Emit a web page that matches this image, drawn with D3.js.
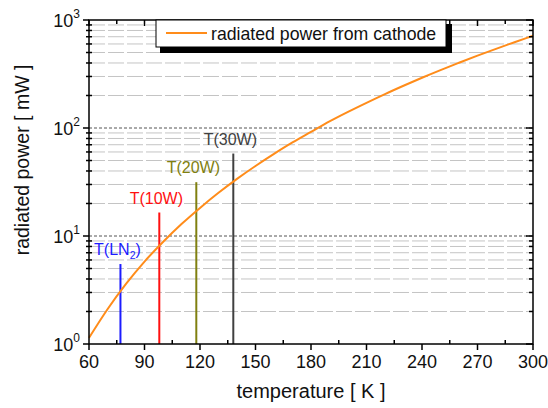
<!DOCTYPE html>
<html>
<head>
<meta charset="utf-8">
<script src="https://cdn.jsdelivr.net/npm/d3@7"></script>
<style>
	body { margin: 0; background: #fff; }
	text { font-family: "Liberation Sans", Arial, sans-serif; }
</style>
</head>
<body>
<svg id="chart" width="548" height="408"></svg>
<script>
// radiated power of the cathode vs temperature
const temperatures = [60, 70, 80, 90, 100, 110, 120, 130, 140, 150, 160, 170, 180,
	190, 200, 210, 220, 230, 240, 250, 260, 270, 280, 290, 300];
const powers = [1.14, 2.1, 3.6, 5.8, 8.8, 12.9, 18.2, 25.1, 33.8, 44.5, 57.6, 73.5, 92,
	115, 141, 171, 206, 246, 292, 344, 402, 468, 541, 622, 715];

const markerNames = ["T(LN2)", "T(10W)", "T(20W)", "T(30W)"];
const markerTemps = [77, 98, 118, 138];
const markerTops = [5.5, 16.5, 31.5, 58];
const markerColors = ["#1c1cff", "#ff1010", "#808010", "#404040"];

const xTicks = [60, 90, 120, 150, 180, 210, 240, 270, 300];
const yTicks = [1, 10, 100, 1000];

const svg = d3.select("#chart");
const margin = { left: 89, right: 533, top: 20, bottom: 344 };

const x = d3.scaleLinear().domain([60, 300]).range([margin.left, margin.right]);
const y = d3.scaleLog().domain([1, 1000]).range([margin.bottom, margin.top]);

const minorY = [];
[1, 10, 100].forEach(d => {
	for (let k = 2; k <= 9; k++) minorY.push(d * k);
});
const minorX = d3.range(75, 300, 30);

// grid
svg.append("g")
	.selectAll("line")
	.data(minorY)
	.enter()
	.append("line")
	.attr("x1", margin.left)
	.attr("x2", margin.right)
	.attr("y1", d => y(d))
	.attr("y2", d => y(d))
	.attr("stroke", "#c4c4c4")
	.attr("stroke-width", 1)
	.attr("stroke-dasharray", "16,3");

svg.append("g")
	.selectAll("line")
	.data([10, 100])
	.enter()
	.append("line")
	.attr("x1", margin.left)
	.attr("x2", margin.right)
	.attr("y1", d => y(d))
	.attr("y2", d => y(d))
	.attr("stroke", "#555")
	.attr("stroke-width", 1)
	.attr("stroke-dasharray", "3,2");

// marker lines
const markers = markerNames.map((name, i) => ({
	name, t: markerTemps[i], top: markerTops[i], color: markerColors[i]
}));

svg.append("g")
	.selectAll("line")
	.data(markers)
	.enter()
	.append("line")
	.attr("x1", d => x(d.t))
	.attr("x2", d => x(d.t))
	.attr("y1", y(1))
	.attr("y2", d => y(d.top))
	.attr("stroke", d => d.color)
	.attr("stroke-width", 2);

const labels = svg.append("g")
	.selectAll("text")
	.data(markers)
	.enter()
	.append("text")
	.attr("x", d => x(d.t) - 3)
	.attr("y", d => y(d.top) - 9)
	.attr("text-anchor", "middle")
	.attr("font-size", 16)
	.attr("fill", d => d.color);

labels.each((d, i, n) => {
	const t = d3.select(n[i]);
	if (d.name === "T(LN2)") {
		t.append("tspan").text("T(LN");
		t.append("tspan").attr("font-size", 10.5).attr("dy", 4).text("2");
		t.append("tspan").attr("dy", -4).text(")");
	} else {
		t.text(d.name);
	}
});

// curve
const line = d3.line()
	.x((d, i) => x(temperatures[i]))
	.y(d => y(d))
	.curve(d3.curveMonotoneX);

svg.append("path")
	.attr("d", line(powers))
	.attr("fill", "none")
	.attr("stroke", "#ff8c1a")
	.attr("stroke-width", 2);

// frame
svg.append("rect")
	.attr("x", margin.left)
	.attr("y", margin.top)
	.attr("width", margin.right - margin.left)
	.attr("height", margin.bottom - margin.top)
	.attr("fill", "none")
	.attr("stroke", "#000")
	.attr("stroke-width", 1.5);

// ticks
const tickG = svg.append("g").attr("stroke", "#000").attr("stroke-width", 1.5);

yTicks.forEach(d => {
	tickG.append("line").attr("x1", margin.left - 6).attr("x2", margin.left)
		.attr("y1", y(d)).attr("y2", y(d));
	tickG.append("line").attr("x1", margin.right - 7).attr("x2", margin.right)
		.attr("y1", y(d)).attr("y2", y(d));
});
minorY.forEach(d => {
	tickG.append("line").attr("x1", margin.left - 3).attr("x2", margin.left + 3)
		.attr("y1", y(d)).attr("y2", y(d));
	tickG.append("line").attr("x1", margin.right - 4).attr("x2", margin.right)
		.attr("y1", y(d)).attr("y2", y(d));
});
xTicks.forEach(d => {
	tickG.append("line").attr("x1", x(d)).attr("x2", x(d))
		.attr("y1", margin.bottom).attr("y2", margin.bottom + 6);
	tickG.append("line").attr("x1", x(d)).attr("x2", x(d))
		.attr("y1", margin.top).attr("y2", margin.top + 6);
});
minorX.forEach(d => {
	tickG.append("line").attr("x1", x(d)).attr("x2", x(d))
		.attr("y1", margin.bottom - 4).attr("y2", margin.bottom);
	tickG.append("line").attr("x1", x(d)).attr("x2", x(d))
		.attr("y1", margin.top).attr("y2", margin.top + 4);
});

// tick labels
svg.append("g")
	.selectAll("text")
	.data(xTicks)
	.enter()
	.append("text")
	.attr("x", d => x(d))
	.attr("y", margin.bottom + 24)
	.attr("text-anchor", "middle")
	.attr("font-size", 18)
	.attr("fill", "#111")
	.text(d => d);

const yLab = svg.append("g")
	.selectAll("text")
	.data(yTicks)
	.enter()
	.append("text")
	.attr("x", margin.left - 9)
	.attr("y", d => y(d) + 7)
	.attr("text-anchor", "end")
	.attr("font-size", 18)
	.attr("fill", "#111");
yLab.append("tspan").text("10");
yLab.append("tspan").attr("font-size", 12).attr("dy", -9).text(d => Math.round(Math.log10(d)));

// axis titles
svg.append("text")
	.attr("x", 311)
	.attr("y", 398)
	.attr("text-anchor", "middle")
	.attr("font-size", 20)
	.attr("fill", "#111")
	.text("temperature [ K ]");

svg.append("text")
	.attr("transform", "translate(29,160) rotate(-90)")
	.attr("text-anchor", "middle")
	.attr("font-size", 19.5)
	.attr("fill", "#111")
	.text("radiated power [ mW ]");

// legend
const legend = svg.append("g");
legend.append("rect")
	.attr("x", 160).attr("y", 24).attr("width", 292).attr("height", 29)
	.attr("fill", "#000");
legend.append("rect")
	.attr("x", 156).attr("y", 20).attr("width", 290).attr("height", 27)
	.attr("fill", "#fff").attr("stroke", "#000").attr("stroke-width", 1);
legend.append("line")
	.attr("x1", 166).attr("x2", 207).attr("y1", 33).attr("y2", 33)
	.attr("stroke", "#ff8c1a").attr("stroke-width", 2);
legend.append("text")
	.attr("x", 211).attr("y", 40)
	.attr("font-size", 17.7)
	.attr("fill", "#111")
	.text("radiated power from cathode");
</script>
</body>
</html>
